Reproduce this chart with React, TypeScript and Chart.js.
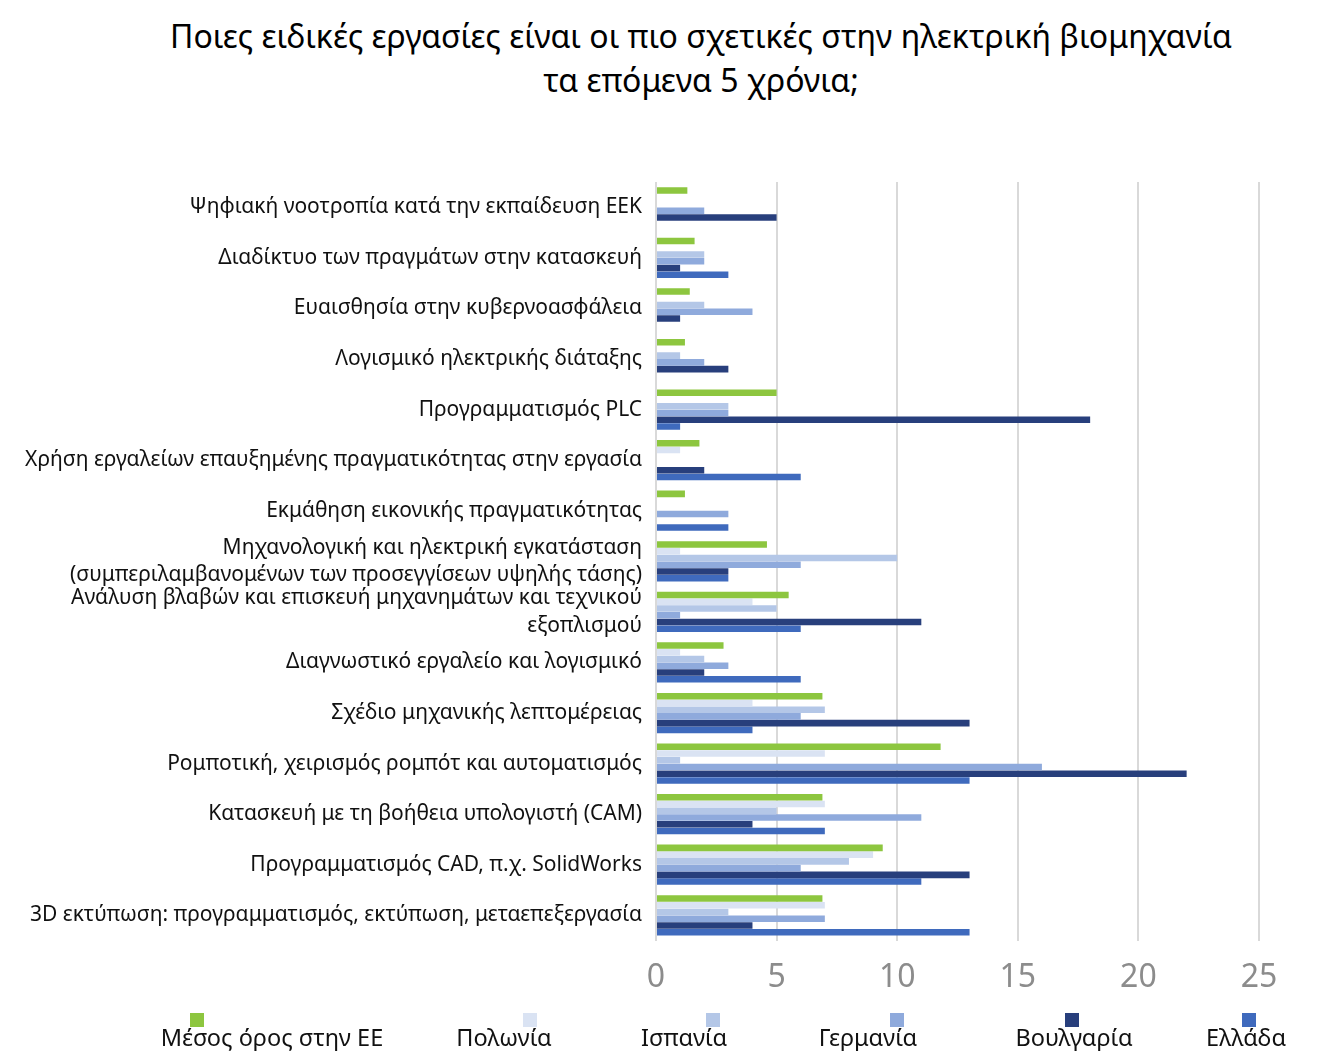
import React, { useEffect, useRef } from "react";
import { Chart, registerables } from "chart.js";

Chart.register(...registerables);

const categories: (string | string[])[] = [
  "Ψηφιακή νοοτροπία κατά την εκπαίδευση ΕΕΚ",
  "Διαδίκτυο των πραγμάτων στην κατασκευή",
  "Ευαισθησία στην κυβερνοασφάλεια",
  "Λογισμικό ηλεκτρικής διάταξης",
  "Προγραμματισμός PLC",
  "Χρήση εργαλείων επαυξημένης πραγματικότητας στην εργασία",
  "Εκμάθηση εικονικής πραγματικότητας",
  ["Μηχανολογική και ηλεκτρική εγκατάσταση", "(συμπεριλαμβανομένων των προσεγγίσεων υψηλής τάσης)"],
  ["Ανάλυση βλαβών και επισκευή μηχανημάτων και τεχνικού", "εξοπλισμού"],
  "Διαγνωστικό εργαλείο και λογισμικό",
  "Σχέδιο μηχανικής λεπτομέρειας",
  "Ρομποτική, χειρισμός ρομπότ και αυτοματισμός",
  "Κατασκευή με τη βοήθεια υπολογιστή (CAM)",
  "Προγραμματισμός CAD, π.χ. SolidWorks",
  "3D εκτύπωση: προγραμματισμός, εκτύπωση, μεταεπεξεργασία",
];

const euAverage = [1.3, 1.6, 1.4, 1.2, 5, 1.8, 1.2, 4.6, 5.5, 2.8, 6.9, 11.8, 6.9, 9.4, 6.9];
const poland = [0, 0, 0, 0, 0, 1, 0, 1, 4, 1, 4, 7, 7, 9, 7];
const spain = [0, 2, 2, 1, 3, 0, 0, 10, 5, 2, 7, 1, 5, 8, 3];
const germany = [2, 2, 4, 2, 3, 0, 3, 6, 1, 3, 6, 16, 11, 6, 7];
const bulgaria = [5, 1, 1, 3, 18, 2, 0, 3, 11, 2, 13, 22, 4, 13, 4];
const greece = [0, 3, 0, 0, 1, 6, 3, 3, 6, 6, 4, 13, 7, 11, 13];

const xTickValues = [0, 5, 10, 15, 20, 25];

const seriesNames = ["Μέσος όρος στην ΕΕ", "Πολωνία", "Ισπανία", "Γερμανία", "Βουλγαρία", "Ελλάδα"];
const seriesData = [euAverage, poland, spain, germany, bulgaria, greece];
const seriesColors = ["#8dc63f", "#dae3f3", "#b4c7e7", "#8faadc", "#283f7c", "#3f6abd"];

const titleLines = [
  "Ποιες ειδικές εργασίες είναι οι πιο σχετικές στην ηλεκτρική βιομηχανία",
  "τα επόμενα 5 χρόνια;",
];

// legend layout (container coordinates)
const legendTextCenters = [264, 496, 676, 860, 1066, 1238];
const legendMarkerCenters = [189, 522, 705, 889, 1064, 1241];

const FONT = "'Noto Sans', 'Open Sans', sans-serif";

export default function App() {
  const ref = useRef<HTMLCanvasElement | null>(null);

  useEffect(() => {
    const prevHtml = document.documentElement.style.overflow;
    const prevBody = document.body.style.overflow;
    document.documentElement.style.overflow = "hidden";
    document.body.style.overflow = "hidden";
    if (!ref.current) return;
    const chart = new Chart(ref.current, {
      type: "bar",
      data: {
        labels: categories,
        datasets: seriesNames.map((name, i) => ({
          label: name,
          data: seriesData[i],
          backgroundColor: seriesColors[i],
          borderWidth: 0,
          categoryPercentage: 0.8,
          barPercentage: 0.97,
        })),
      },
      options: {
        indexAxis: "y",
        animation: false,
        responsive: false,
        maintainAspectRatio: false,
        layout: { padding: { top: 174, right: 50, bottom: 0, left: 0 } },
        plugins: {
          legend: { display: false },
          title: { display: false },
          tooltip: { enabled: false },
        },
        scales: {
          x: {
            type: "linear",
            position: "bottom",
            min: 0,
            max: 25,
            afterBuildTicks: (scale: any) => {
              scale.ticks = xTickValues.map((v) => ({ value: v }));
            },
            grid: { color: "#d9d9d9", lineWidth: 2, drawTicks: false },
            border: { display: false },
            ticks: {
              color: "#8c8c8c",
              padding: 18,
              font: { family: FONT, size: 32 },
            },
          },
          y: {
            type: "category",
            afterFit: (scale: any) => {
              scale.width = 648;
            },
            grid: { display: false, drawTicks: false },
            border: { display: false },
            ticks: {
              color: "#111111",
              padding: 14,
              autoSkip: false,
              font: { family: FONT, size: 21, lineHeight: 1.3 },
            },
          },
        },
      },
    });
    return () => {
      chart.destroy();
      document.documentElement.style.overflow = prevHtml;
      document.body.style.overflow = prevBody;
    };
  }, []);

  return (
    <div style={{ position: "relative", width: 1301, height: 1043, overflow: "hidden", background: "#fff" }}>
      <div
        style={{
          position: "absolute",
          left: 693 - 650,
          width: 1300,
          top: 6,
          textAlign: "center",
          fontFamily: FONT,
          fontSize: 32,
          lineHeight: "44px",
          color: "#000",
          whiteSpace: "nowrap",
        }}
      >
        {titleLines.map((t, i) => (
          <div key={i}>{t}</div>
        ))}
      </div>
      <canvas ref={ref} width={1301} height={1007} style={{ position: "absolute", left: 0, top: 0 }} />
      {seriesNames.map((name, i) => (
        <React.Fragment key={name}>
          <div
            style={{
              position: "absolute",
              left: legendMarkerCenters[i] - 7,
              top: 1005,
              width: 14,
              height: 14,
              background: seriesColors[i],
            }}
          />
          <div
            style={{
              position: "absolute",
              left: legendTextCenters[i] - 150,
              width: 300,
              top: 1014,
              textAlign: "center",
              fontFamily: FONT,
              fontSize: 23.5,
              lineHeight: "30px",
              color: "#111",
              whiteSpace: "nowrap",
            }}
          >
            {name}
          </div>
        </React.Fragment>
      ))}
    </div>
  );
}
